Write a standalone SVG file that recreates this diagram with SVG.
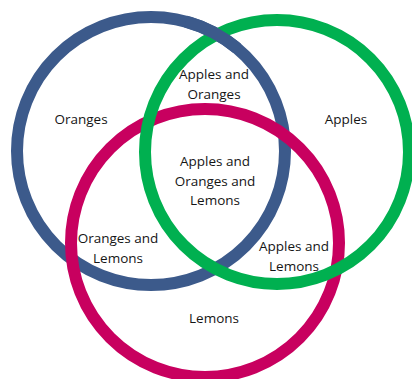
<svg xmlns="http://www.w3.org/2000/svg" width="412" height="379" viewBox="0 0 412 379">
<style>
.ring{fill:none;stroke-width:12}
.b{stroke:#3C5A8B}
.g{stroke:#00B050}
.m{stroke:#C8005F}
text{font-family:"Open Sans","Liberation Sans",sans-serif;font-size:13.5px;fill:#151515;text-anchor:middle}
</style>
<rect width="412" height="379" fill="#fff"/>
<g id="oranges">
<circle class="ring b" cx="151" cy="151" r="134"/>
</g>
<g id="lemons">
<circle class="ring m" cx="205" cy="243" r="134"/>
</g>
<g id="apples">
<circle class="ring g" cx="277" cy="152" r="132"/>
</g>
<g id="oranges-over">
<path class="ring b" d="M185.7,21.6 A134,134 0 0 1 237.1,48.4"/>
</g>
<g id="label-oranges"><text x="81" y="124">Oranges</text></g>
<g id="label-apples"><text x="346" y="124">Apples</text></g>
<g id="label-apples-oranges"><text x="214" y="79">Apples and</text><text x="214" y="99">Oranges</text></g>
<g id="label-all"><text x="215" y="166">Apples and</text><text x="215" y="186">Oranges and</text><text x="215" y="205">Lemons</text></g>
<g id="label-oranges-lemons"><text x="118" y="243">Oranges and</text><text x="118" y="263">Lemons</text></g>
<g id="label-apples-lemons"><text x="294" y="251">Apples and</text><text x="294" y="271">Lemons</text></g>
<g id="label-lemons"><text x="214" y="323">Lemons</text></g>
</svg>
